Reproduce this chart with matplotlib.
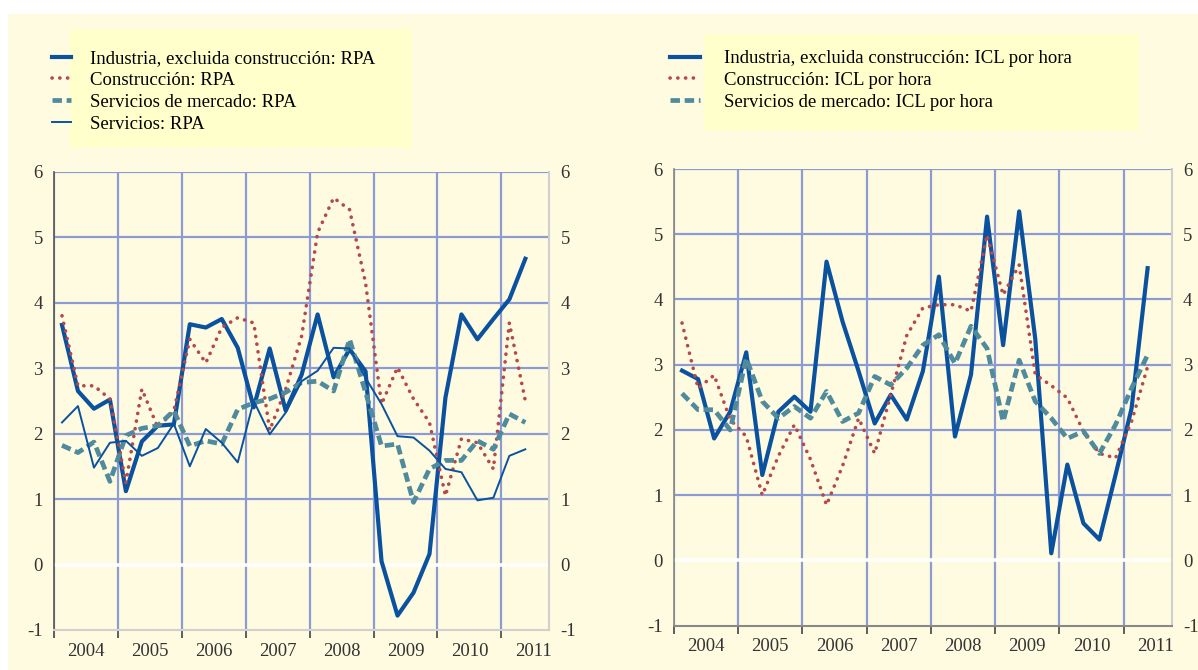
import numpy as np
import matplotlib.pyplot as plt
from matplotlib.patches import Rectangle

plt.rcParams['font.family'] = ['Liberation Serif', 'DejaVu Serif']
plt.rcParams['axes.unicode_minus'] = False

# quarterly data, 2004 Q1 - 2011 Q2
ind_rpa = [3.66, 2.65, 2.38, 2.52, 1.12, 1.88, 2.12, 2.14, 3.67, 3.62, 3.75, 3.31, 2.40, 3.30, 2.35,
           2.90, 3.82, 2.86, 3.29, 2.95, 0.05, -0.78, -0.43, 0.16, 2.55, 3.82, 3.44, 3.75, 4.05, 4.67]
constr_rpa = [3.80, 2.73, 2.73, 2.53, 1.25, 2.68, 2.09, 2.35, 3.44, 3.08, 3.62, 3.77, 3.69, 2.05, 2.68,
              3.49, 5.07, 5.60, 5.42, 4.30, 2.45, 3.01, 2.53, 2.17, 1.05, 1.92, 1.86, 1.46, 3.69, 2.50]
mkt_rpa = [1.82, 1.71, 1.87, 1.27, 1.97, 2.08, 2.12, 2.35, 1.81, 1.89, 1.84, 2.37, 2.47, 2.53, 2.63,
           2.78, 2.80, 2.65, 3.44, 2.63, 1.81, 1.84, 0.95, 1.46, 1.59, 1.59, 1.89, 1.76, 2.30, 2.17]
serv_rpa = [2.17, 2.42, 1.48, 1.86, 1.89, 1.66, 1.78, 2.15, 1.50, 2.07, 1.86, 1.56, 2.50, 1.99, 2.32,
            2.80, 2.96, 3.31, 3.30, 2.85, 2.45, 1.96, 1.94, 1.74, 1.46, 1.41, 0.98, 1.02, 1.66, 1.76]

ind_icl = [2.91, 2.78, 1.87, 2.28, 3.19, 1.31, 2.28, 2.51, 2.28, 4.58, 3.66, 2.90, 2.10, 2.54, 2.16,
           2.90, 4.35, 1.90, 2.85, 5.27, 3.30, 5.35, 3.40, 0.11, 1.47, 0.57, 0.32, 1.31, 2.33, 4.48]
constr_icl = [3.64, 2.64, 2.84, 2.16, 1.90, 1.00, 1.60, 2.08, 1.55, 0.85, 1.45, 2.18, 1.64, 2.54, 3.45,
              3.87, 3.92, 3.92, 3.82, 4.99, 4.07, 4.53, 2.85, 2.68, 2.49, 1.98, 1.64, 1.57, 2.13, 2.97]
mkt_icl = [2.56, 2.31, 2.31, 2.00, 3.10, 2.44, 2.18, 2.36, 2.18, 2.59, 2.13, 2.26, 2.82, 2.69, 2.95,
           3.30, 3.46, 3.02, 3.59, 3.25, 2.13, 3.07, 2.44, 2.18, 1.87, 1.98, 1.64, 2.08, 2.64, 3.15]

years = list(range(2004, 2012))
labels_rpa = ['Industria, excluida construcción: RPA', 'Construcción: RPA',
              'Servicios de mercado: RPA', 'Servicios: RPA']
labels_icl = ['Industria, excluida construcción: ICL por hora', 'Construcción: ICL por hora',
              'Servicios de mercado: ICL por hora']

cream = '#fffbe0'
boxc = '#ffffcc'
gridc = '#8c9bd4'
blue = '#0a52a0'
red = '#b5484a'
teal = '#4f8b9c'
dots = (0, (0.05, 2.1))

W, H = 1198, 670
x = 2004 + (np.arange(len(ind_rpa)) + 0.5) / 4

fig = plt.figure(figsize=(W / 100, H / 100), dpi=100)
fig.patch.set_facecolor('white')
fig.add_artist(Rectangle((8 / W, 0), 1, 1 - 14 / H, transform=fig.transFigure,
                         facecolor=cream, edgecolor='none', zorder=-10))
# legend boxes
fig.add_artist(Rectangle((70 / W, 1 - 148 / H), 342 / W, 119 / H, transform=fig.transFigure,
                         facecolor=boxc, edgecolor='none', zorder=-9))
fig.add_artist(Rectangle((704 / W, 1 - 131 / H), 435 / W, 97 / H, transform=fig.transFigure,
                         facecolor=boxc, edgecolor='none', zorder=-9))

ax1 = fig.add_axes([54 / W, 1 - 630 / H, 495.3 / W, 458.3 / H])
ax2 = fig.add_axes([674 / W, 1 - 625.7 / H, 497.7 / W, 456.7 / H])


def style_axes(ax, bottom_col, left_col):
    ax.set_facecolor(cream)
    ax.set_xlim(2004, 2011.75)
    ax.set_ylim(-1, 6)
    ax.set_yticks(range(-1, 7))
    ax.set_xticks(years)
    ax.set_xticklabels([])
    ax.set_xticks([y + 0.5 for y in years], minor=True)
    ax.set_xticklabels([str(y) for y in years], minor=True)
    ax.tick_params(axis='x', which='major', direction='out', length=6, width=1.2, color='#444')
    ax.tick_params(axis='x', which='minor', length=0, labelsize=13.5, pad=9, labelcolor='#333')
    ax.tick_params(axis='y', length=0, labelsize=13.5, pad=8, labelright=True, labelcolor='#333')
    ax.grid(True, which='major', color=gridc, lw=1.6)
    for val, gl in zip(range(-1, 7), ax.yaxis.get_gridlines()):
        if val == -1:
            gl.set_visible(False)
        elif val == 0:
            gl.set_color('white')
            gl.set_linewidth(2.6)
    ax.spines['top'].set_visible(False)
    ax.spines['right'].set_color('#cfcfcf')
    ax.spines['right'].set_linewidth(1.5)
    ax.spines['bottom'].set_color(bottom_col)
    ax.spines['bottom'].set_linewidth(1.5)
    ax.spines['left'].set_color(left_col)
    ax.spines['left'].set_linewidth(1.2)


style_axes(ax1, '#d0d0d0', '#555555')
style_axes(ax2, '#888888', '#888888')

# left panel
h1, = ax1.plot(x, ind_rpa, color=blue, lw=3.0)
h2, = ax1.plot(x, constr_rpa, color=red, lw=2.6, linestyle=dots, dash_capstyle='round')
h3, = ax1.plot(x, mkt_rpa, color=teal, lw=3.4, linestyle=(0, (2, 1)))
h4, = ax1.plot(x, serv_rpa, color=blue, lw=1.4)

# right panel
g1, = ax2.plot(x, ind_icl, color=blue, lw=3.0)
g2, = ax2.plot(x, constr_icl, color=red, lw=2.6, linestyle=dots, dash_capstyle='round')
g3, = ax2.plot(x, mkt_icl, color=teal, lw=3.4, linestyle=(0, (2, 1)))

leg_kw = dict(loc='upper left', frameon=False, fontsize=13.5, borderpad=0,
              borderaxespad=0, labelspacing=0.25)
fig.legend([h1, h2, h3, h4], labels_rpa, bbox_to_anchor=(52 / W, 1 - 50 / H),
           handlelength=1.0, handletextpad=1.0, **leg_kw)
fig.legend([g1, g2, g3], labels_icl, bbox_to_anchor=(670 / W, 1 - 50 / H),
           handlelength=1.6, handletextpad=1.3, **leg_kw)

fig.savefig('out.png', dpi=100, facecolor=fig.get_facecolor())
